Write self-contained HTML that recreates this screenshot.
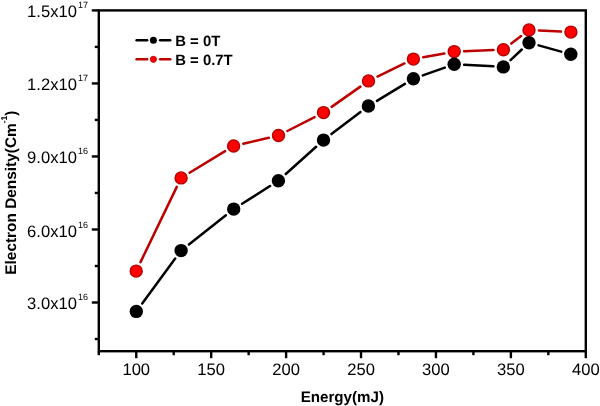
<!DOCTYPE html>
<html><head><meta charset="utf-8"><style>
html,body{margin:0;padding:0;background:#fff;}
body{width:600px;height:406px;overflow:hidden;}
svg{display:block;will-change:transform;}
text{font-family:"Liberation Sans",sans-serif;fill:#000;text-rendering:geometricPrecision;}
.tl{font-size:16.6px;}
.sup{font-size:9px;}
.ttl{font-size:15.4px;font-weight:bold;}
.leg{font-size:14.9px;font-weight:bold;}
</style></head><body>
<svg width="600" height="406" viewBox="0 0 600 406">
<rect width="600" height="406" fill="#fff"/>
<rect x="98.8" y="10.4" width="486.99999999999994" height="340.8" fill="none" stroke="#000" stroke-width="2.4"/>
<line x1="98.80" y1="351.2" x2="98.80" y2="355.2" stroke="#000" stroke-width="2.4"/>
<line x1="136.26" y1="351.2" x2="136.26" y2="358.2" stroke="#000" stroke-width="2.4"/>
<text x="136.26" y="375" class="tl" text-anchor="middle">100</text>
<line x1="173.72" y1="351.2" x2="173.72" y2="355.2" stroke="#000" stroke-width="2.4"/>
<line x1="211.18" y1="351.2" x2="211.18" y2="358.2" stroke="#000" stroke-width="2.4"/>
<text x="211.18" y="375" class="tl" text-anchor="middle">150</text>
<line x1="248.65" y1="351.2" x2="248.65" y2="355.2" stroke="#000" stroke-width="2.4"/>
<line x1="286.11" y1="351.2" x2="286.11" y2="358.2" stroke="#000" stroke-width="2.4"/>
<text x="286.11" y="375" class="tl" text-anchor="middle">200</text>
<line x1="323.57" y1="351.2" x2="323.57" y2="355.2" stroke="#000" stroke-width="2.4"/>
<line x1="361.03" y1="351.2" x2="361.03" y2="358.2" stroke="#000" stroke-width="2.4"/>
<text x="361.03" y="375" class="tl" text-anchor="middle">250</text>
<line x1="398.49" y1="351.2" x2="398.49" y2="355.2" stroke="#000" stroke-width="2.4"/>
<line x1="435.95" y1="351.2" x2="435.95" y2="358.2" stroke="#000" stroke-width="2.4"/>
<text x="435.95" y="375" class="tl" text-anchor="middle">300</text>
<line x1="473.42" y1="351.2" x2="473.42" y2="355.2" stroke="#000" stroke-width="2.4"/>
<line x1="510.88" y1="351.2" x2="510.88" y2="358.2" stroke="#000" stroke-width="2.4"/>
<text x="510.88" y="375" class="tl" text-anchor="middle">350</text>
<line x1="548.34" y1="351.2" x2="548.34" y2="355.2" stroke="#000" stroke-width="2.4"/>
<line x1="585.80" y1="351.2" x2="585.80" y2="358.2" stroke="#000" stroke-width="2.4"/>
<text x="585.80" y="375" class="tl" text-anchor="middle">400</text>
<line x1="94.8" y1="339.03" x2="98.8" y2="339.03" stroke="#000" stroke-width="2.4"/>
<line x1="91.8" y1="302.51" x2="98.8" y2="302.51" stroke="#000" stroke-width="2.4"/>
<text x="76.9" y="308.81" class="tl" text-anchor="end">3.0x10</text>
<text x="77.9" y="299.81" class="sup">16</text>
<line x1="94.8" y1="266.00" x2="98.8" y2="266.00" stroke="#000" stroke-width="2.4"/>
<line x1="91.8" y1="229.49" x2="98.8" y2="229.49" stroke="#000" stroke-width="2.4"/>
<text x="76.9" y="236.59" class="tl" text-anchor="end">6.0x10</text>
<text x="77.9" y="227.59" class="sup">16</text>
<line x1="94.8" y1="192.97" x2="98.8" y2="192.97" stroke="#000" stroke-width="2.4"/>
<line x1="91.8" y1="156.46" x2="98.8" y2="156.46" stroke="#000" stroke-width="2.4"/>
<text x="76.9" y="162.86" class="tl" text-anchor="end">9.0x10</text>
<text x="77.9" y="153.86" class="sup">16</text>
<line x1="94.8" y1="119.94" x2="98.8" y2="119.94" stroke="#000" stroke-width="2.4"/>
<line x1="91.8" y1="83.43" x2="98.8" y2="83.43" stroke="#000" stroke-width="2.4"/>
<text x="76.9" y="90.03" class="tl" text-anchor="end">1.2x10</text>
<text x="77.9" y="81.03" class="sup">17</text>
<line x1="94.8" y1="46.91" x2="98.8" y2="46.91" stroke="#000" stroke-width="2.4"/>
<line x1="91.8" y1="10.40" x2="98.8" y2="10.40" stroke="#000" stroke-width="2.4"/>
<text x="76.9" y="17.00" class="tl" text-anchor="end">1.5x10</text>
<text x="77.9" y="8.00" class="sup">17</text>
<text x="342.3" y="402" class="ttl" style="font-size:15.15px" text-anchor="middle">Energy(mJ)</text>
<text transform="translate(15.6,192.6) rotate(-90)" class="ttl" text-anchor="middle">Electron Density(Cm<tspan dy="-8.5" font-size="8.6">-1</tspan><tspan dy="8.5">)</tspan></text>
<line x1="140.52" y1="262.14" x2="176.78" y2="186.86" stroke="#bc0000" stroke-width="2.5" stroke-linecap="round"/>
<line x1="189.60" y1="172.73" x2="225.10" y2="151.17" stroke="#bc0000" stroke-width="2.5" stroke-linecap="round"/>
<line x1="243.29" y1="143.73" x2="268.81" y2="137.77" stroke="#bc0000" stroke-width="2.5" stroke-linecap="round"/>
<line x1="287.37" y1="130.99" x2="314.63" y2="117.11" stroke="#bc0000" stroke-width="2.5" stroke-linecap="round"/>
<line x1="331.63" y1="106.87" x2="360.37" y2="86.63" stroke="#bc0000" stroke-width="2.5" stroke-linecap="round"/>
<line x1="377.45" y1="76.55" x2="404.45" y2="63.45" stroke="#bc0000" stroke-width="2.5" stroke-linecap="round"/>
<line x1="423.19" y1="57.30" x2="444.41" y2="53.40" stroke="#bc0000" stroke-width="2.5" stroke-linecap="round"/>
<line x1="464.14" y1="51.22" x2="493.46" y2="50.08" stroke="#bc0000" stroke-width="2.5" stroke-linecap="round"/>
<line x1="511.27" y1="43.61" x2="521.13" y2="35.99" stroke="#bc0000" stroke-width="2.5" stroke-linecap="round"/>
<line x1="538.94" y1="30.42" x2="560.96" y2="31.58" stroke="#bc0000" stroke-width="2.5" stroke-linecap="round"/>
<circle cx="136.2" cy="271.1" r="6.00" fill="#ff0000" stroke="#b40000" stroke-width="1.4"/>
<circle cx="181.1" cy="177.9" r="6.00" fill="#ff0000" stroke="#b40000" stroke-width="1.4"/>
<circle cx="233.6" cy="146.0" r="6.00" fill="#ff0000" stroke="#b40000" stroke-width="1.4"/>
<circle cx="278.5" cy="135.5" r="6.00" fill="#ff0000" stroke="#b40000" stroke-width="1.4"/>
<circle cx="323.5" cy="112.6" r="6.00" fill="#ff0000" stroke="#b40000" stroke-width="1.4"/>
<circle cx="368.5" cy="80.9" r="6.00" fill="#ff0000" stroke="#b40000" stroke-width="1.4"/>
<circle cx="413.4" cy="59.1" r="6.00" fill="#ff0000" stroke="#b40000" stroke-width="1.4"/>
<circle cx="454.2" cy="51.6" r="6.00" fill="#ff0000" stroke="#b40000" stroke-width="1.4"/>
<circle cx="503.4" cy="49.7" r="6.00" fill="#ff0000" stroke="#b40000" stroke-width="1.4"/>
<circle cx="529.0" cy="29.9" r="6.00" fill="#ff0000" stroke="#b40000" stroke-width="1.4"/>
<circle cx="570.9" cy="32.1" r="6.00" fill="#ff0000" stroke="#b40000" stroke-width="1.4"/>
<line x1="142.20" y1="303.39" x2="175.20" y2="258.61" stroke="#000" stroke-width="2.5" stroke-linecap="round"/>
<line x1="188.91" y1="244.44" x2="225.89" y2="215.26" stroke="#000" stroke-width="2.5" stroke-linecap="round"/>
<line x1="242.10" y1="203.76" x2="270.00" y2="186.04" stroke="#000" stroke-width="2.5" stroke-linecap="round"/>
<line x1="285.79" y1="174.04" x2="316.11" y2="146.76" stroke="#000" stroke-width="2.5" stroke-linecap="round"/>
<line x1="331.42" y1="134.08" x2="360.48" y2="112.02" stroke="#000" stroke-width="2.5" stroke-linecap="round"/>
<line x1="376.91" y1="100.84" x2="404.89" y2="83.86" stroke="#000" stroke-width="2.5" stroke-linecap="round"/>
<line x1="422.78" y1="75.39" x2="444.82" y2="67.61" stroke="#000" stroke-width="2.5" stroke-linecap="round"/>
<line x1="464.14" y1="64.83" x2="493.36" y2="66.37" stroke="#000" stroke-width="2.5" stroke-linecap="round"/>
<line x1="510.54" y1="60.08" x2="521.76" y2="49.52" stroke="#000" stroke-width="2.5" stroke-linecap="round"/>
<line x1="538.59" y1="45.36" x2="561.21" y2="51.64" stroke="#000" stroke-width="2.5" stroke-linecap="round"/>
<circle cx="136.3" cy="311.4" r="6.7" fill="#000"/>
<circle cx="181.1" cy="250.6" r="6.7" fill="#000"/>
<circle cx="233.7" cy="209.1" r="6.7" fill="#000"/>
<circle cx="278.4" cy="180.7" r="6.7" fill="#000"/>
<circle cx="323.5" cy="140.1" r="6.7" fill="#000"/>
<circle cx="368.4" cy="106.0" r="6.7" fill="#000"/>
<circle cx="413.4" cy="78.7" r="6.7" fill="#000"/>
<circle cx="454.2" cy="64.3" r="6.7" fill="#000"/>
<circle cx="503.3" cy="66.9" r="6.7" fill="#000"/>
<circle cx="529.0" cy="42.7" r="6.7" fill="#000"/>
<circle cx="570.8" cy="54.3" r="6.7" fill="#000"/>
<line x1="136.6" y1="40.3" x2="147.1" y2="40.3" stroke="#000" stroke-width="2.5" stroke-linecap="round"/>
<line x1="160.1" y1="40.3" x2="170.2" y2="40.3" stroke="#000" stroke-width="2.5" stroke-linecap="round"/>
<circle cx="153.4" cy="40.3" r="3.5" fill="#000"/>
<text x="175.2" y="45.50" class="leg">B = 0T</text>
<line x1="136.6" y1="59.3" x2="147.1" y2="59.3" stroke="#bc0000" stroke-width="2.5" stroke-linecap="round"/>
<line x1="160.1" y1="59.3" x2="170.2" y2="59.3" stroke="#bc0000" stroke-width="2.5" stroke-linecap="round"/>
<circle cx="153.4" cy="59.3" r="3.1" fill="#ff0000" stroke="#b40000" stroke-width="0.8"/>
<text x="175.2" y="64.50" class="leg">B = 0.7T</text>
</svg>
</body></html>
